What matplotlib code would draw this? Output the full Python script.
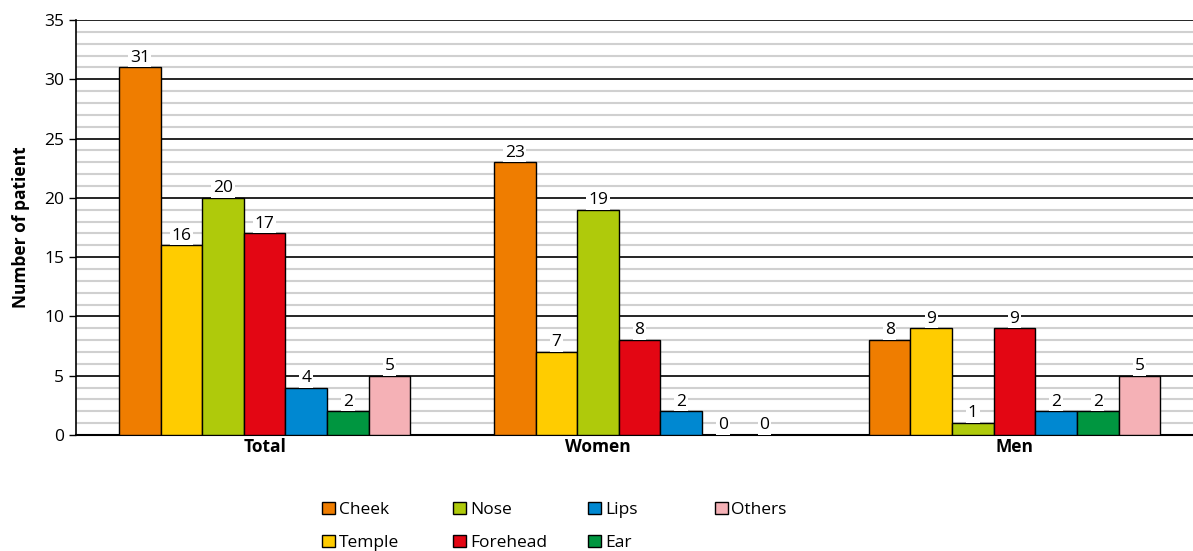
import matplotlib
matplotlib.use("Agg")
import matplotlib.pyplot as plt
import numpy as np

groups = ["Total", "Women", "Men"]
series = ["Cheek", "Temple", "Nose", "Forehead", "Lips", "Ear", "Others"]
cheek = [31, 23, 8]
temple = [16, 7, 9]
nose = [20, 19, 1]
forehead = [17, 8, 9]
lips = [4, 2, 2]
ear = [2, 0, 2]
others = [5, 0, 5]
colors = ["#EF7D00", "#FFCC00", "#AFCA0B", "#E30613", "#0088D1", "#009640", "#F5B1B6"]

values = [cheek, temple, nose, forehead, lips, ear, others]

plt.rcParams['font.family'] = ['Open Sans', 'DejaVu Sans']

fig = plt.figure(figsize=(11.93, 5.51), dpi=100)
ax = fig.add_axes([0.0637, 0.2105, 0.9363, 0.7532])

x = np.arange(len(groups))
w = 0.111
handles = []
nonzero_pos = [[] for _ in groups]
for i, (name, vals) in enumerate(zip(series, values)):
    pos = x + (i - 3) * w
    lw = [1 if v > 0 else 0 for v in vals]
    b = ax.bar(pos, vals, w, color=colors[i], edgecolor="black", linewidth=lw,
               label=name, zorder=3)
    handles.append(b)
    for g, (px, v) in enumerate(zip(pos, vals)):
        ax.text(px, v + 0.15, str(v), ha="center", va="bottom", fontsize=12.5,
                zorder=4, bbox=dict(facecolor="white", edgecolor="none", pad=1.2))
        if v > 0:
            nonzero_pos[g].append(px)

ax.set_ylim(0, 35)
ax.set_xlim(-0.503, 2.476)
ax.set_yticks(range(0, 36, 5))
ax.set_yticks(range(0, 36, 1), minor=True)
ax.tick_params(axis="y", which="major", labelsize=12.5, length=5, width=1)
ax.tick_params(axis="y", which="minor", length=0)
# group labels sit over the visible bars
ax.set_xticks([np.mean(p) for p in nonzero_pos])
ax.set_xticklabels(groups, fontweight="bold", fontsize=12.5)
ax.tick_params(axis="x", length=0, pad=2)

ax.grid(axis="y", which="minor", color="#d0d0d0", linewidth=1.5, zorder=0)
ax.grid(axis="y", which="major", color="black", linewidth=1.2, zorder=1)
ax.set_axisbelow(True)
for s in ["top", "right"]:
    ax.spines[s].set_visible(False)
ax.spines["left"].set_linewidth(1.2)
ax.spines["bottom"].set_linewidth(1.5)

ax.set_ylabel("Number of patient", fontweight="bold", fontsize=12.5, labelpad=10)

col_x = [0.257, 0.367, 0.480, 0.586]
for c, cx in enumerate(col_x):
    leg = fig.legend(handles[2 * c:2 * c + 2], series[2 * c:2 * c + 2],
                     loc="upper left", bbox_to_anchor=(cx, 0.118), frameon=False,
                     fontsize=12.5, handlelength=0.75, handleheight=0.75,
                     handletextpad=0.2, labelspacing=0.95)

fig.savefig("out.png", dpi=100)
